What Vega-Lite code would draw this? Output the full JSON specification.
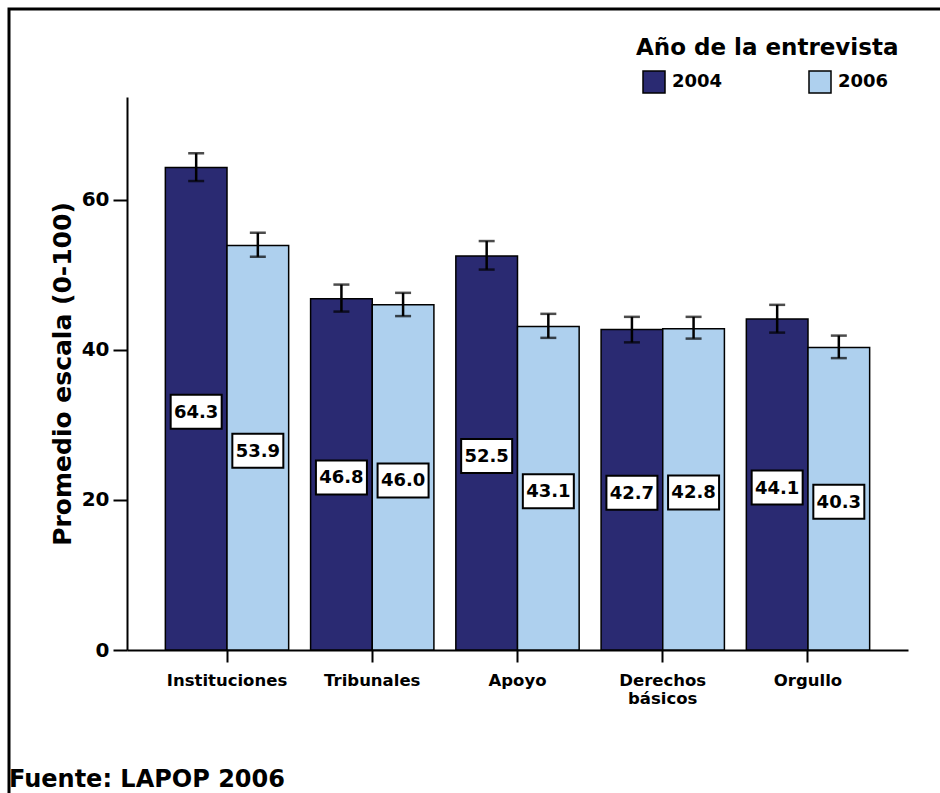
{
  "$schema": "https://vega.github.io/schema/vega-lite/v6.json",
  "autosize": {"type": "none"},
  "padding": {"left": 9, "top": 9, "right": 0, "bottom": 0},
  "width": 940,
  "height": 790,
  "background": "white",
  "view": {"stroke": "black", "strokeWidth": 3, "fill": "white"},
  "title": {"text": "Fuente: LAPOP 2006", "orient": "bottom", "anchor": "start", "frame": "group", "offset": -31, "font": "DejaVu Sans", "fontSize": 24, "fontWeight": "bold", "color": "black"},
  "data": {"values": [
    {"cat": "Instituciones", "year": "2004", "value": 64.3, "lo": 62.5, "hi": 66.2},
    {"cat": "Instituciones", "year": "2006", "value": 53.9, "lo": 52.4, "hi": 55.6},
    {"cat": "Tribunales", "year": "2004", "value": 46.8, "lo": 45.1, "hi": 48.7},
    {"cat": "Tribunales", "year": "2006", "value": 46.0, "lo": 44.5, "hi": 47.6},
    {"cat": "Apoyo", "year": "2004", "value": 52.5, "lo": 50.7, "hi": 54.5},
    {"cat": "Apoyo", "year": "2006", "value": 43.1, "lo": 41.6, "hi": 44.8},
    {"cat": "Derechos básicos", "year": "2004", "value": 42.7, "lo": 41.0, "hi": 44.4},
    {"cat": "Derechos básicos", "year": "2006", "value": 42.8, "lo": 41.5, "hi": 44.4},
    {"cat": "Orgullo", "year": "2004", "value": 44.1, "lo": 42.3, "hi": 46.0},
    {"cat": "Orgullo", "year": "2006", "value": 40.3, "lo": 38.9, "hi": 41.9}
  ]},
  "encoding": {
    "x": {
      "field": "cat", "type": "nominal",
      "sort": ["Instituciones", "Tribunales", "Apoyo", "Derechos básicos", "Orgullo"],
      "scale": {"range": [118, 899], "paddingInner": 0.151, "paddingOuter": 0.264},
      "axis": {
        "title": null, "offset": -149, "labelAngle": 0,
        "domainColor": "black", "domainWidth": 2,
        "tickColor": "black", "tickWidth": 2, "tickSize": 12,
        "labelFont": "DejaVu Sans", "labelFontSize": 16.5, "labelFontWeight": "bold", "labelColor": "black",
        "labelPadding": 10, "labelLineHeight": 18,
        "labelExpr": "datum.label == 'Derechos básicos' ? ['Derechos', 'básicos'] : datum.label"
      }
    },
    "xOffset": {"field": "year", "type": "nominal", "scale": {"paddingInner": 0, "paddingOuter": 0}}
  },
  "layer": [
    {
      "layer": [
        {
          "mark": {"type": "bar", "stroke": "black", "strokeWidth": 1.5},
          "encoding": {
            "y": {
              "field": "value", "type": "quantitative", "title": "Promedio escala (0-100)",
              "scale": {"domain": [0, 73.7], "range": [641, 88], "nice": false, "zero": true},
              "axis": {
                "values": [0, 20, 40, 60], "offset": -118, "grid": false,
                "domainColor": "black", "domainWidth": 2,
                "tickColor": "black", "tickWidth": 2, "tickSize": 14,
                "labelFont": "DejaVu Sans", "labelFontSize": 20, "labelFontWeight": "bold", "labelColor": "black", "labelPadding": 4,
                "titleFont": "DejaVu Sans", "titleFontSize": 25, "titleFontWeight": "bold", "titleColor": "black", "titlePadding": 6
              }
            },
            "color": {
              "field": "year", "type": "nominal",
              "scale": {"domain": ["2004", "2006"], "range": ["#2a2a72", "#aed0ee"]},
              "legend": {
                "title": "Año de la entrevista", "orient": "none", "legendX": 627, "legendY": 28,
                "direction": "horizontal", "columns": 2, "columnPadding": 79,
                "titleFont": "DejaVu Sans", "titleFontSize": 23, "titleFontWeight": "bold", "titleColor": "black", "titlePadding": 10, "titleLimit": 500,
                "labelFont": "DejaVu Sans", "labelFontSize": 18, "labelFontWeight": "bold", "labelColor": "black", "labelOffset": 6,
                "symbolType": "square", "symbolSize": 484, "symbolStrokeColor": "black", "symbolStrokeWidth": 1.5, "symbolOffset": 6
              }
            }
          }
        },
        {
          "mark": {"type": "rule", "strokeWidth": 2.5, "color": "black"},
          "encoding": {
            "y": {"field": "lo", "type": "quantitative", "title": "Promedio escala (0-100)"},
            "y2": {"field": "hi"}
          }
        },
        {
          "mark": {"type": "tick", "size": 16, "thickness": 2.5, "color": "black"},
          "encoding": {"y": {"field": "lo", "type": "quantitative", "title": "Promedio escala (0-100)"}}
        },
        {
          "mark": {"type": "tick", "size": 16, "thickness": 2.5, "color": "black"},
          "encoding": {"y": {"field": "hi", "type": "quantitative", "title": "Promedio escala (0-100)"}}
        }
      ]
    },
    {
      "encoding": {
        "y": {"field": "value", "type": "quantitative", "scale": {"domain": [0, 147.4], "range": [641, 88], "nice": false, "zero": true}, "axis": null}
      },
      "layer": [
        {
          "mark": {"type": "point", "shape": "M-1,-0.667L1,-0.667L1,0.667L-1,0.667Z", "size": 2601, "filled": true, "fill": "white", "stroke": "black", "strokeWidth": 2, "opacity": 1, "fillOpacity": 1, "strokeOpacity": 1, "yOffset": 3}
        },
        {
          "mark": {"type": "text", "font": "DejaVu Sans", "fontSize": 18, "fontWeight": "bold", "color": "black", "baseline": "middle", "align": "center", "yOffset": 4},
          "encoding": {"text": {"field": "value", "type": "quantitative", "format": ".1f"}}
        }
      ]
    }
  ],
  "resolve": {"scale": {"y": "independent"}}
}
